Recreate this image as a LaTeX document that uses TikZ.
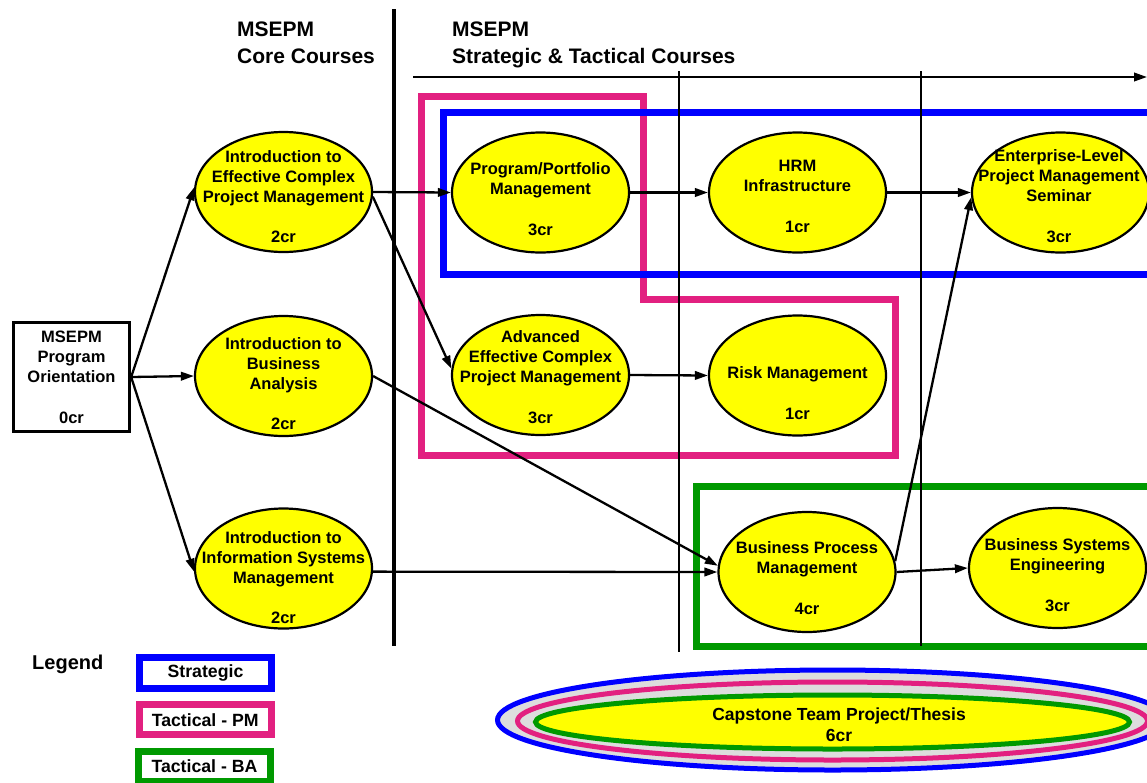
\documentclass[tikz,border=0pt]{standalone}
\usepackage{fontspec}
\setmainfont{Liberation Sans}
\usetikzlibrary{arrows.meta,shapes.geometric}
\definecolor{pmpink}{RGB}{226,32,128}
\definecolor{bagreen}{RGB}{0,153,0}
\definecolor{stblue}{RGB}{0,0,255}
\definecolor{capgray}{RGB}{221,221,221}
\definecolor{courseyellow}{RGB}{255,255,0}
\begin{document}
\begin{tikzpicture}[x=1pt,y=-1pt,
  course/.style={ellipse,draw=black,line width=2.2pt,fill=courseyellow,minimum width=177pt,minimum height=120pt,inner sep=0pt},
  ctext/.style={align=center,inner sep=0pt,font=\bfseries\fontsize{16.5}{20}\selectfont},
  head/.style={anchor=base west,inner sep=0pt,font=\bfseries\fontsize{21}{27}\selectfont},
  flow/.style={line width=2.3pt,-{Triangle[length=13pt,width=8.5pt]}},
  grp/.style={line width=7pt},
  legbox/.style={draw,line width=7pt,minimum width=132pt,minimum height=30.5pt,inner sep=0pt,font=\bfseries\fontsize{17.7}{20}\selectfont},
  divider/.style={line width=1.3pt}
]
\useasboundingbox (0,0) rectangle (1147,782);
\clip (0,0) rectangle (1147,782);

% headers
\node[head] (h1a) at (237,36) {MSEPM};
\node[head] (h1b) at (237,63) {Core Courses};
\node[head] (h2a) at (452,36) {MSEPM};
\node[head] (h2b) at (452,63) {Strategic \& Tactical Courses};

% group boxes
\draw[grp,pmpink] (421.5,96) -- (643.5,96) -- (643.5,299) -- (895,299) -- (895,455.5) -- (421.5,455.5) -- cycle;
\draw[grp,stblue] (1170,112.5) -- (443,112.5) -- (443,274.5) -- (1170,274.5);
\draw[grp,bagreen] (1170,486) -- (696.5,486) -- (696.5,646) -- (1170,646);

% dividers
\draw[line width=3.5pt] (394,9) -- (394,646);
\draw[divider] (679,71) -- (679,652);
\draw[divider] (921,71) -- (921,646);
\coordinate (hA) at (413,77);
\coordinate (hB) at (1147,77);
\draw[line width=2.2pt,-{Triangle[length=13pt,width=8.5pt]}] (hA) -- (hB);

% orientation
\node[draw,line width=3.3pt,minimum width=116pt,minimum height=109pt,inner sep=0pt,align=center,font=\bfseries\fontsize{16.5}{20}\selectfont] (O) at (71.5,377) {MSEPM\\Program\\Orientation\\[21pt]0cr};

% courses
\node[course] (E1) at (283.5,192) {};
\node[ctext] (T1) at (283.5,197) {Introduction to\\Effective Complex\\Project Management\\[20pt]2cr};
\node[course] (E2) at (283.5,376) {};
\node[ctext] (T2) at (283.5,383.5) {Introduction to\\Business\\Analysis\\[20pt]2cr};
\node[course] (E3) at (283.5,568.5) {};
\node[ctext] (T3) at (283.5,578) {Introduction to\\Information Systems\\Management\\[20pt]2cr};
\node[course] (E4) at (540.5,192.5) {};
\node[ctext] (T4) at (540.5,199.5) {Program/Portfolio\\Management\\[21pt]3cr};
\node[course] (E5) at (797.5,192.5) {};
\node[ctext] (T5) at (797.5,196.6) {HRM\\Infrastructure\\[21pt]1cr};
\node[course] (E6) at (1060.5,192.5) {};
\node[ctext] (T6) at (1059,196.2) {Enterprise-Level\\Project Management\\Seminar\\[21pt]3cr};
\node[course] (E7) at (540.5,375) {};
\node[ctext] (T7) at (540.5,377) {Advanced\\Effective Complex\\Project Management\\[21pt]3cr};
\node[course] (E8) at (797.5,375.5) {};
\node[ctext] (T8) at (797.5,393.5) {Risk Management\\[21pt]1cr};
\node[course] (E9) at (807,572) {};
\node[ctext] (T9) at (807,577.7) {Business Process\\Management\\[21pt]4cr};
\node[course] (E10) at (1057.5,568) {};
\node[ctext] (T10) at (1057.5,574.8) {Business Systems\\Engineering\\[21pt]3cr};

% connectors
\draw[flow] (O.east) -- (E1.177);
\draw[flow] (O.east) -- (E2.west);
\draw[flow] (O.east) -- (E3.182);
\draw[flow] (E1.east) -- (E4.west);
\draw[flow] (E1.-3) -- (E7.176);
\draw[flow] (E4.east) -- (E5.west);
\draw[flow] (E5.east) -- (E6.west);
\draw[flow] (E7.east) -- (E8.west);
\draw[flow] (E2.east) -- (E9.176);
\draw[flow] (E3.-2) -- (E9.west);
\draw[flow] (E9.7) -- (E6.183);
\draw[flow] (E9.east) -- (E10.west);

% legend
\node[anchor=base west,inner sep=0pt,font=\bfseries\fontsize{20}{24}\selectfont] (Lg) at (32,669) {Legend};
\node[legbox,draw=stblue] (L1) at (205.5,672.75) {Strategic};
\node[legbox,draw=pmpink] (L2) at (205.2,719.7) {Tactical - PM};
\node[legbox,draw=bagreen] (L3) at (204.5,766.25) {Tactical - BA};

% capstone
\node[ellipse,draw=stblue,line width=5pt,fill=capgray,minimum width=670pt,minimum height=100pt,inner sep=0pt] (CB) at (832.5,720) {};
\node[ellipse,draw=pmpink,line width=5pt,fill=capgray,minimum width=630pt,minimum height=78pt,inner sep=0pt] (CP) at (832.5,721) {};
\node[ellipse,draw=bagreen,line width=5pt,fill=courseyellow,minimum width=594pt,minimum height=54pt,inner sep=0pt] (CG) at (832.5,722) {};
\node[ctext,font=\bfseries\fontsize{17.5}{21}\selectfont] (CT) at (839,725) {Capstone Team Project/Thesis\\6cr};
\end{tikzpicture}
\end{document}
